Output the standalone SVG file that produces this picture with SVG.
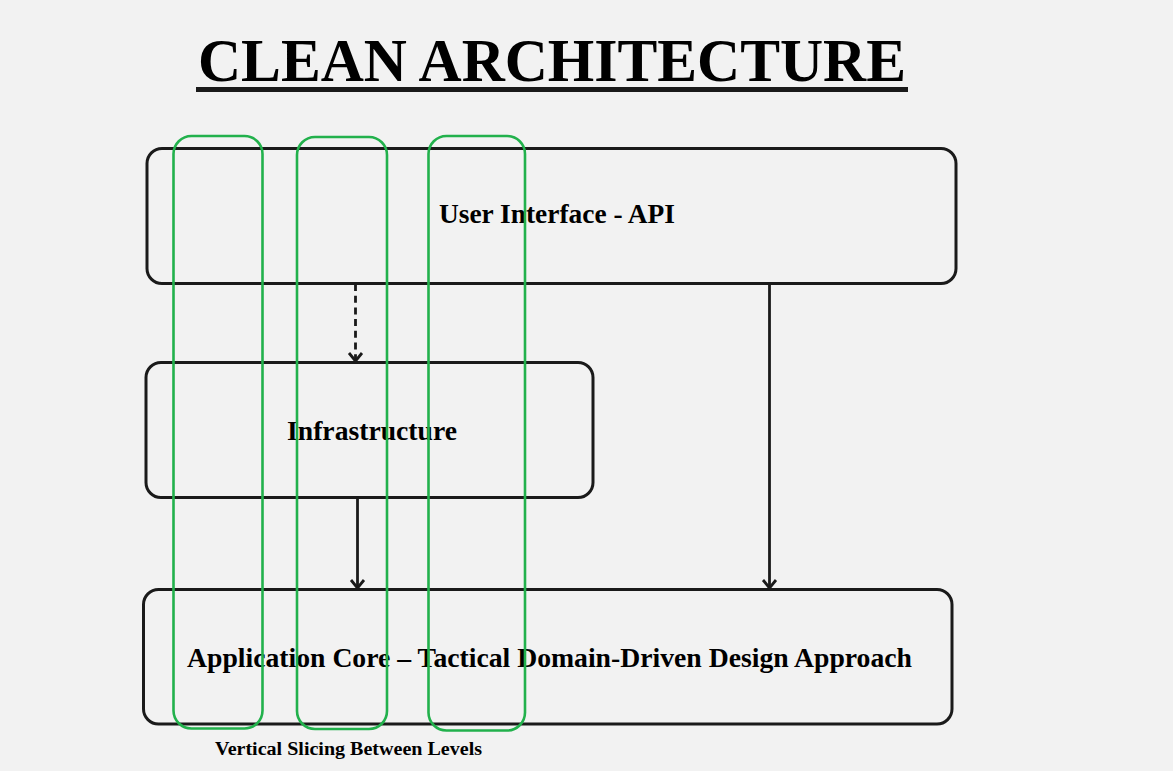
<svg xmlns="http://www.w3.org/2000/svg" width="1173" height="771" viewBox="0 0 1173 771">
<style>
.box{fill:none;stroke:#1a1a1a;stroke-width:3}
.slice{fill:none;stroke:#22b14c;stroke-width:2.6}
.lbl{font-family:"Liberation Serif","Times New Roman",serif;font-weight:bold;fill:#000}
.conn{stroke:#1a1a1a;stroke-width:2.8;fill:none}
</style>
<defs>
<marker id="arr" markerUnits="userSpaceOnUse" markerWidth="20" markerHeight="20" refX="10" refY="10" orient="auto">
<path d="M2,3.5 L10,10 L2,16.5" fill="none" stroke="#1a1a1a" stroke-width="2.8"/>
</marker>
</defs>
<rect width="1173" height="771" fill="#f2f2f2"/>
<g id="title">
<text class="lbl" x="198" y="81" font-size="62" textLength="708" lengthAdjust="spacingAndGlyphs" fill="#1a1a1a">CLEAN ARCHITECTURE</text>
<rect x="196" y="87" width="712" height="5" fill="#1a1a1a"/>
</g>
<g id="connectors">
<line class="conn" x1="355.5" y1="284" x2="355.5" y2="361" stroke-dasharray="7 4.7" marker-end="url(#arr)"/>
<line class="conn" x1="357.5" y1="498" x2="357.5" y2="588" marker-end="url(#arr)"/>
<line class="conn" x1="769.5" y1="284" x2="769.5" y2="588" marker-end="url(#arr)"/>
</g>
<g id="ui">
<rect class="box" x="147" y="148.5" width="809" height="135" rx="15"/>
<text class="lbl" x="439" y="223" font-size="28" textLength="236" lengthAdjust="spacingAndGlyphs">User Interface - API</text>
</g>
<g id="infrastructure">
<rect class="box" x="146" y="362.5" width="447" height="135" rx="15"/>
<text class="lbl" x="287" y="440" font-size="28" textLength="170" lengthAdjust="spacingAndGlyphs">Infrastructure</text>
</g>
<g id="core">
<rect class="box" x="143.5" y="589.5" width="808.5" height="134.5" rx="15"/>
<text class="lbl" x="187" y="667" font-size="28" textLength="725" lengthAdjust="spacingAndGlyphs">Application Core – Tactical Domain-Driven Design Approach</text>
</g>
<g id="slices">
<rect class="slice" x="173.5" y="136" width="89" height="592.5" rx="18"/>
<rect class="slice" x="297" y="137" width="90" height="592" rx="18"/>
<rect class="slice" x="428.5" y="136" width="96.5" height="594.5" rx="18"/>
</g>
<g id="slice-label">
<text class="lbl" x="215" y="755" font-size="18.5" textLength="267" lengthAdjust="spacingAndGlyphs">Vertical Slicing Between Levels</text>
</g>
</svg>
